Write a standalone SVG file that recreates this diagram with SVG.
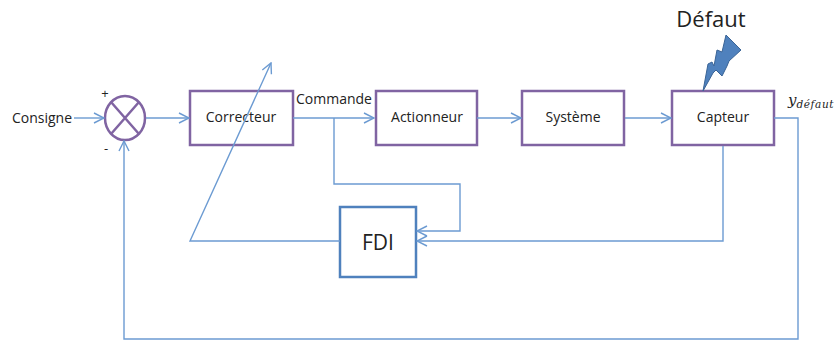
<svg xmlns="http://www.w3.org/2000/svg" width="840" height="340" viewBox="0 0 840 340">
<style>
text{font-family:"Open Sans","Liberation Sans",sans-serif;fill:#222;text-anchor:middle}
.lbl{font-size:14px}
.box{fill:#fff;stroke:#8064a2;stroke-width:2.5}
.c{fill:none;stroke:#6c9bd2;stroke-width:1.4;stroke-linejoin:miter}
.a{marker-end:url(#arr)}
</style>
<defs>
<marker id="arr" viewBox="0 0 12 12" refX="11" refY="6" markerWidth="12" markerHeight="12" markerUnits="userSpaceOnUse" orient="auto">
<path d="M1 1L11 6L1 11" fill="none" stroke="#6c9bd2" stroke-width="1.4"/>
</marker>
</defs>
<g id="sum">
<ellipse cx="125" cy="118" rx="20" ry="22" fill="#fff" stroke="#8064a2" stroke-width="2.5"/>
<path d="M111 102L139 134M139 102L111 134" fill="none" stroke="#8064a2" stroke-width="2.5"/>
<text x="105" y="98" font-size="13">+</text>
<text x="106" y="153" font-size="13">-</text>
</g>
<text id="consigne" class="lbl" x="42" y="123">Consigne</text>
<g id="correcteur">
<rect class="box" x="190" y="91" width="103" height="54"/>
<text class="lbl" x="241" y="122">Correcteur</text>
</g>
<text id="commande" class="lbl" x="334" y="104">Commande</text>
<g id="actionneur">
<rect class="box" x="376" y="91" width="101" height="54"/>
<text class="lbl" x="427" y="122">Actionneur</text>
</g>
<g id="systeme">
<rect class="box" x="522" y="91" width="102" height="54"/>
<text class="lbl" x="573" y="122">Système</text>
</g>
<g id="capteur">
<rect class="box" x="672" y="91" width="102" height="54"/>
<text class="lbl" x="723" y="122">Capteur</text>
</g>
<g id="fdi">
<rect x="340" y="207" width="76" height="70" fill="#fff" stroke="#4f81bd" stroke-width="2.5"/>
<text x="378" y="250" font-size="21">FDI</text>
</g>
<g id="defaut">
<text x="711" y="27" font-size="22">Défaut</text>
<path d="M703 91L708 64L712 62L714 66L717 50L722 52L726 35L741 50L729 61L727 66L722 76L716 70L713 73Z" fill="#4f81bd" stroke="#3a6496" stroke-width="1"/>
</g>
<text id="ydefaut" x="788" y="105" font-size="15" style="font-family:'DejaVu Serif','Liberation Serif',serif;font-style:italic;text-anchor:start">y<tspan font-size="10.5" dy="3" letter-spacing="0.6">défaut</tspan></text>
<g id="connectors">
<path class="c a" d="M74 118H104"/>
<path class="c a" d="M146 118H189"/>
<path class="c a" d="M293 118H374"/>
<path class="c a" d="M477 118H521"/>
<path class="c a" d="M625 118H671"/>
<path class="c a" d="M774 118H798V339H124V141"/>
<path class="c a" d="M334 118V184H460V231H417"/>
<path class="c a" d="M723 146V241H417"/>
<path class="c a" d="M340 241H190L271 63"/>
</g>
</svg>
